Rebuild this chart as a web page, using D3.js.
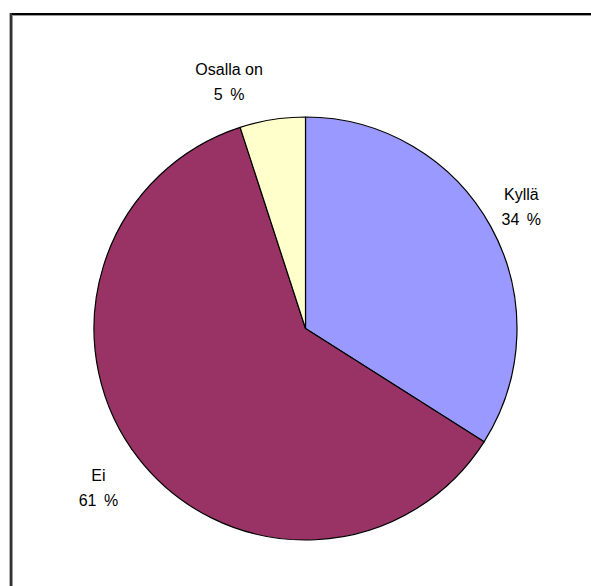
<!DOCTYPE html>
<html>
<head>
<meta charset="utf-8">
<script src="https://cdn.jsdelivr.net/npm/d3@7"></script>
<style>
  html, body { margin: 0; padding: 0; background: #fff; }
  svg { display: block; }
</style>
</head>
<body>
<svg id="chart" width="591" height="586"></svg>
<script>
const categories = ["Kyllä", "Ei", "Osalla on"];
const values = [34, 61, 5];
const valueLabels = ["34 %", "61 %", "5 %"];
const colors = ["#9999FF", "#993366", "#FFFFCC"];

const svg = d3.select("#chart");
const W = 591, H = 586;
svg.append("rect").attr("width", W).attr("height", H).attr("fill", "#fff");

// frame (only top and left edges visible in the picture)
svg.append("line").attr("x1", 9).attr("x2", W).attr("y1", 14).attr("y2", 14)
  .attr("stroke", "#000").attr("stroke-width", 2);
svg.append("line").attr("x1", 12).attr("x2", W).attr("y1", 15.5).attr("y2", 15.5)
  .attr("stroke", "#9a9a9a").attr("stroke-width", 1);
svg.append("line").attr("x1", 9.5).attr("x2", 9.5).attr("y1", 13).attr("y2", H)
  .attr("stroke", "#b0b0b0").attr("stroke-width", 1);
svg.append("line").attr("x1", 11).attr("x2", 11).attr("y1", 13).attr("y2", H)
  .attr("stroke", "#333").attr("stroke-width", 2);
svg.append("line").attr("x1", 12.5).attr("x2", 12.5).attr("y1", 15).attr("y2", H)
  .attr("stroke", "#9a9a9a").attr("stroke-width", 1);

const cx = 305.5, cy = 328.5, R = 211.5;
const g = svg.append("g").attr("transform", `translate(${cx},${cy})`);

const pie = d3.pie().sort(null).startAngle(0).endAngle(2 * Math.PI).value(d => d);
const arcs = pie(values);
const arc = d3.arc().innerRadius(0).outerRadius(R);

g.selectAll("path.slice").data(arcs).enter().append("path")
  .attr("class", "slice")
  .attr("d", arc)
  .attr("fill", (d, i) => colors[i])
  .attr("stroke", "#000")
  .attr("stroke-width", 1.2)
  .attr("stroke-linejoin", "round");

// labels placed outside the pie along each slice's mid-angle
const labelRadius = 252;
const nudge = [[-5, -1], [-8, 4], [-37, 1]];
const lab = g.selectAll("g.lab").data(arcs).enter().append("g")
  .attr("class", "lab")
  .attr("transform", (d, i) => {
    const a = (d.startAngle + d.endAngle) / 2;
    const x = Math.sin(a) * labelRadius + nudge[i][0];
    const y = -Math.cos(a) * labelRadius + nudge[i][1];
    return `translate(${x},${y})`;
  });
lab.append("text")
  .attr("text-anchor", "middle")
  .attr("y", -6)
  .attr("font-family", "Liberation Sans, Arial, sans-serif")
  .attr("font-size", 16)
  .attr("fill", "#000")
  .text((d, i) => categories[i]);
lab.append("text")
  .attr("text-anchor", "middle")
  .attr("y", 19)
  .attr("font-family", "Liberation Sans, Arial, sans-serif")
  .attr("font-size", 16)
  .attr("word-spacing", 3)
  .attr("fill", "#000")
  .text((d, i) => valueLabels[i]);
</script>
</body>
</html>
